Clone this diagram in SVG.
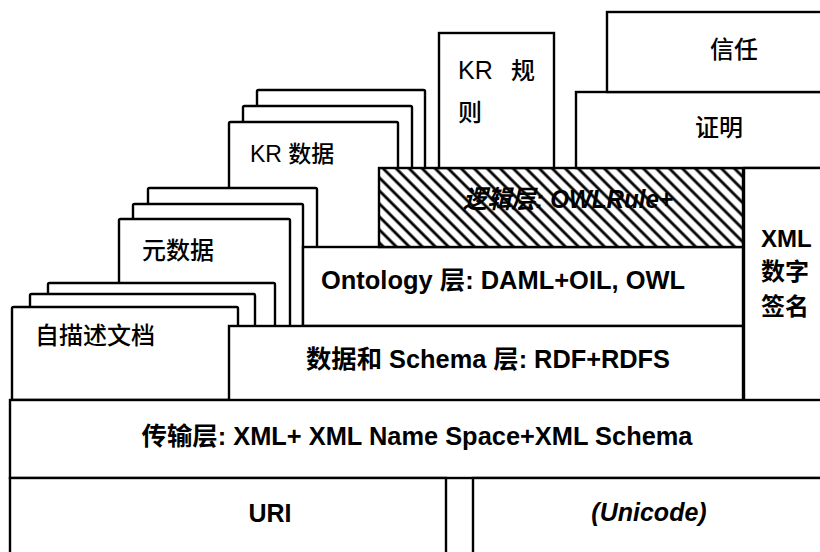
<svg xmlns="http://www.w3.org/2000/svg" width="820" height="552" viewBox="0 0 820 552">
<defs>
<pattern id="hatch" patternUnits="userSpaceOnUse" width="10" height="9.2" patternTransform="rotate(45)">
<rect width="10" height="9.2" fill="#fff"/>
<line x1="0" y1="4.6" x2="10" y2="4.6" stroke="#000" stroke-width="2.8"/>
</pattern>
</defs>
<style>
.b{fill:#fff;stroke:#000;stroke-width:2.4}
.h{fill:url(#hatch);stroke:#000;stroke-width:2.4}
.t{font-family:"Liberation Sans","Noto Sans CJK SC",sans-serif;fill:#000;font-size:24px;font-weight:500}
.bd{font-weight:bold;font-size:25px}
.it{font-style:italic}
.m{text-anchor:middle}
</style>
<rect width="820" height="552" fill="#fff"/>
<g id="kr-data">
<rect class="b" x="257" y="90" width="168" height="160" rx="1.5"/>
<rect class="b" x="243" y="106" width="169" height="150" rx="1.5"/>
<rect class="b" x="229" y="122" width="169" height="140" rx="1.5"/>
<text class="t" x="250" y="162" style="font-size:23px">KR 数据</text>
</g>
<g id="metadata">
<rect class="b" x="148" y="188" width="169" height="140" rx="1.5"/>
<rect class="b" x="133" y="204" width="170" height="130" rx="1.5"/>
<rect class="b" x="119" y="219" width="171" height="120" rx="1.5"/>
<text class="t" x="142" y="259">元数据</text>
</g>
<g id="self-doc">
<rect class="b" x="48" y="283" width="227" height="100" rx="1.5"/>
<rect class="b" x="30" y="294" width="225" height="100" rx="1.5"/>
<rect class="b" x="12" y="307" width="226" height="93" rx="1.5"/>
<text class="t" x="35" y="344">自描述文档</text>
</g>
<g id="ontology">
<rect class="b" x="303" y="247" width="440" height="79"/>
<text class="t bd" x="321" y="289" textLength="364" lengthAdjust="spacingAndGlyphs">Ontology 层: DAML+OIL, OWL</text>
</g>
<g id="data-schema">
<rect class="b" x="229" y="326" width="514" height="75"/>
<text class="t bd m" x="488" y="368" textLength="364" lengthAdjust="spacingAndGlyphs">数据和 Schema 层: RDF+RDFS</text>
</g>
<g id="logic">
<rect class="h" x="379" y="168" width="364" height="79"/>
<text class="t bd it" x="463" y="208" textLength="210" lengthAdjust="spacingAndGlyphs">逻辑层: OWLRule+</text>
</g>
<g id="kr-rules">
<rect class="b" x="439" y="33" width="115" height="135"/>
<text class="t" x="458" y="79" style="font-size:25px">KR</text>
<text class="t" x="511" y="79">规</text>
<text class="t" x="458" y="121">则</text>
</g>
<g id="proof">
<rect class="b" x="576" y="92" width="260" height="76"/>
<text class="t m" x="719" y="136">证明</text>
</g>
<g id="trust">
<rect class="b" x="607" y="12" width="230" height="80"/>
<text class="t m" x="734" y="58">信任</text>
</g>
<g id="xml-signature">
<rect class="b" x="744" y="168" width="90" height="233"/>
<text class="t bd" x="761" y="247" style="font-size:24px">XML</text>
<text class="t bd" x="761" y="280" style="font-size:24px">数字</text>
<text class="t bd" x="761" y="315" style="font-size:24px">签名</text>
</g>
<g id="transport">
<rect class="b" x="10" y="400" width="825" height="78"/>
<text class="t bd m" x="417" y="445" textLength="551" lengthAdjust="spacingAndGlyphs">传输层: XML+ XML Name Space+XML Schema</text>
</g>
<g id="uri">
<rect class="b" x="10" y="478" width="436" height="90"/>
<text class="t bd m" x="270" y="522">URI</text>
</g>
<g id="unicode">
<rect class="b" x="473" y="478" width="362" height="90"/>
<text class="t bd it m" x="649" y="521">(Unicode)</text>
</g>
</svg>
